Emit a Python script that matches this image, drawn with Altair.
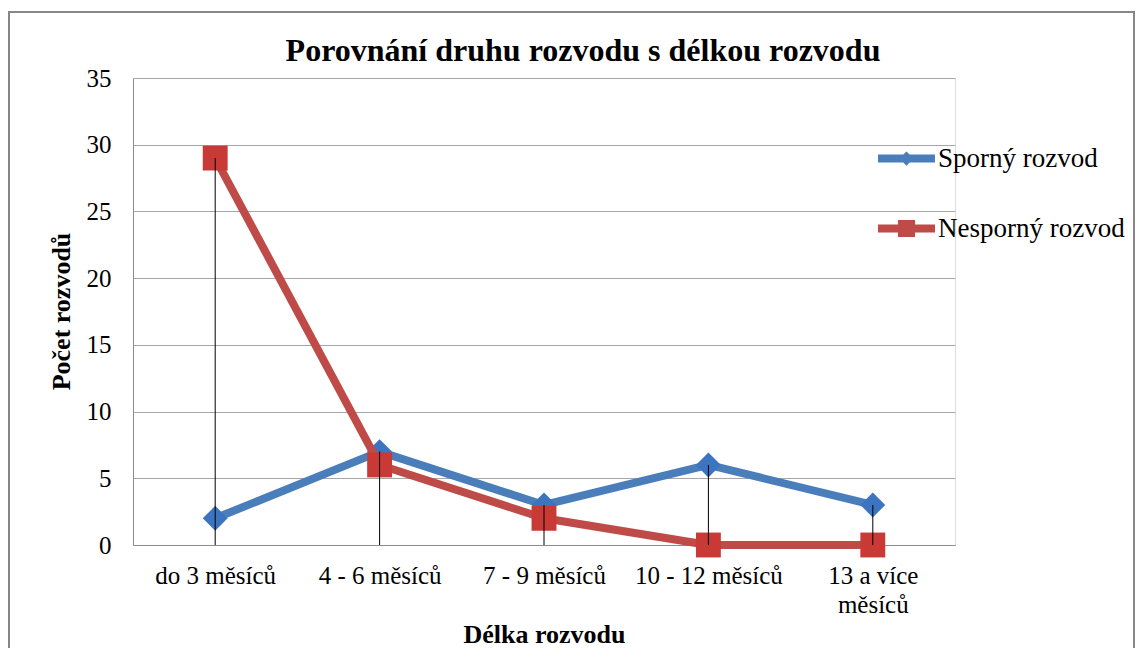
import altair as alt
import pandas as pd

categories = ["do 3 měsíců", "4 - 6 měsíců", "7 - 9 měsíců", "10 - 12 měsíců", "13 a více měsíců"]
series_names = ["Sporný rozvod", "Nesporný rozvod"]
sporny = [2, 7, 3, 6, 3]
nesporny = [29, 6, 2, 0, 0]
y_ticks = [0, 5, 10, 15, 20, 25, 30, 35]

line_colors = ["#4a7ebb", "#be4b48"]
marker_colors = ["#3c74c0", "#c93a37"]
marker_shapes = ["diamond", "square"]
legend_paths = [
    "M-1,-0.14H1V0.14H-1Z M0,-0.25L0.25,0L0,0.25L-0.25,0Z",
    "M-1,-0.14H1V0.14H-1Z M-0.3,-0.3H0.3V0.3H-0.3Z",
]

rows = []
for c, a, b in zip(categories, sporny, nesporny):
    rows.append({"cat": c, "series": series_names[0], "value": a})
    rows.append({"cat": c, "series": series_names[1], "value": b})
df = pd.DataFrame(rows)
drop = pd.DataFrame({"cat": categories, "top": [max(a, b) for a, b in zip(sporny, nesporny)], "zero": 0})

FONT = "Liberation Serif"

x_enc = alt.X(
    "cat:N",
    sort=categories,
    scale=alt.Scale(type="point", padding=0.5),
    axis=alt.Axis(
        title="Délka rozvodu",
        labelAngle=0,
        labelFont=FONT,
        labelFontSize=25,
        labelColor="black",
        labelPadding=18,
        labelLineHeight=29,
        labelExpr="length(datum.label) > 15 ? [substring(datum.label, 0, lastindexof(datum.label, ' ')), substring(datum.label, lastindexof(datum.label, ' ') + 1)] : datum.label",
        ticks=False,
        grid=False,
        domainColor="#8c8c8c",
        titleFont=FONT,
        titleFontSize=26,
        titleFontWeight="bold",
        titleColor="black",
        titleBaseline="alphabetic",
        titleY=97,
    ),
)
y_enc = alt.Y(
    "value:Q",
    scale=alt.Scale(domain=[0, 35], nice=False),
    axis=alt.Axis(
        title="Počet rozvodů",
        values=y_ticks,
        labelFont=FONT,
        labelFontSize=25,
        labelColor="black",
        labelPadding=22,
        ticks=False,
        grid=True,
        gridColor="#a6a6a6",
        domainColor="#8c8c8c",
        titleFont=FONT,
        titleFontSize=26,
        titleFontWeight="bold",
        titleColor="black",
        titleBaseline="alphabetic",
        titleX=-64,
        titleY=233,
    ),
)

border = alt.Chart(drop).mark_rect(fill="transparent", stroke="#868686", strokeWidth=2).encode(
    x=alt.value(-124), x2=alt.value(1001), y=alt.value(-66), y2=alt.value(600)
)

layers = [border]
for i, s in enumerate(series_names):
    sub = alt.Chart(df).transform_filter(alt.datum.series == s)
    layers.append(
        sub.mark_line(strokeWidth=8, strokeCap="round", strokeJoin="round", color=line_colors[i]).encode(
            x=x_enc, y=y_enc
        )
    )
    layers.append(
        sub.mark_point(filled=True, size=620, opacity=1, shape=marker_shapes[i], color=marker_colors[i]).encode(
            x=alt.X("cat:N", sort=categories), y=alt.Y("value:Q")
        )
    )

legend_layer = (
    alt.Chart(df)
    .transform_filter("false")
    .mark_point(filled=True, opacity=1)
    .encode(
        x=alt.X("cat:N", sort=categories),
        y=alt.Y("value:Q"),
        color=alt.Color(
            "series:N",
            scale=alt.Scale(domain=series_names, range=line_colors),
            legend=alt.Legend(
                title=None,
                orient="none",
                legendX=745,
                legendY=52,
                labelFont=FONT,
                labelFontSize=27,
                labelColor="black",
                labelOffset=3,
                labelLimit=400,
                symbolSize=3249,
                symbolStrokeWidth=0,
                symbolOpacity=1,
                rowPadding=28,
                padding=0,
            ),
        ),
        shape=alt.Shape("series:N", scale=alt.Scale(domain=series_names, range=legend_paths), title=None),
    )
)
layers.append(legend_layer)

drops = alt.Chart(drop).mark_rule(color="black", strokeWidth=1).encode(
    x=alt.X("cat:N", sort=categories),
    y=alt.Y("top:Q"),
    y2="zero:Q",
)
layers.append(drops)

chart = (
    alt.layer(*layers)
    .properties(
        width=822,
        height=467,
        title=alt.TitleParams(
            "Porovnání druhu rozvodu s délkou rozvodu",
            font=FONT,
            fontSize=32,
            fontWeight="bold",
            color="black",
            baseline="alphabetic",
            offset=-82,
            dx=39,
        ),
        autosize=alt.AutoSizeParams(type="none"),
        padding={"left": 125, "top": 70, "right": 180, "bottom": 103},
    )
    .configure_view(stroke=None)
    .configure(background="white")
)

chart.save("out.html", embed_options={"renderer": "svg", "actions": False})
